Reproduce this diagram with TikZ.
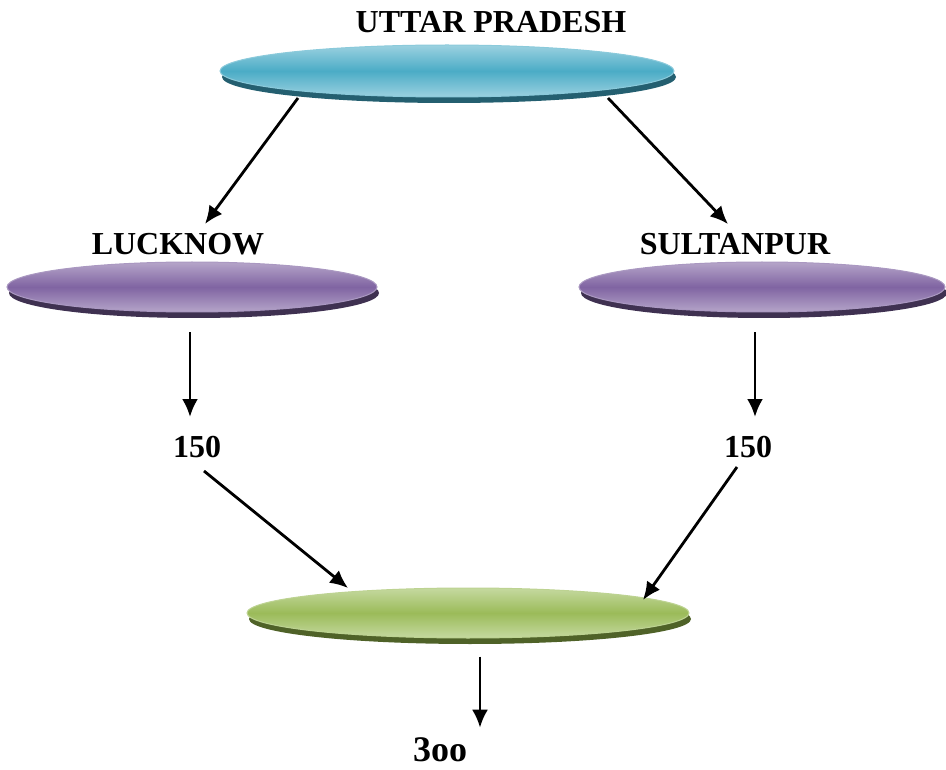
\documentclass[tikz,border=0pt]{standalone}
\usepackage{fontspec}
\setmainfont{Liberation Serif}
\usetikzlibrary{shapes.geometric,arrows.meta,shadows,calc}

\definecolor{tealbase}{HTML}{4BACC6}
\definecolor{teallight}{HTML}{9BD1E0}
\definecolor{tealdark}{HTML}{245F70}
\definecolor{purpbase}{HTML}{8064A2}
\definecolor{purplight}{HTML}{B5A5C9}
\definecolor{purpdark}{HTML}{3F3151}
\definecolor{grnbase}{HTML}{9BBB59}
\definecolor{grnlight}{HTML}{C5D9A0}
\definecolor{grndark}{HTML}{4F6228}

\tikzset{
  disc/.style n args={3}{ellipse, inner sep=0pt,
    general shadow={shadow xshift=2pt, shadow yshift=-6pt, fill=#3},
    top color=#2, bottom color=#2, middle color=#1,
    draw=#2!80!#1, line width=1pt},
  caption/.style={inner sep=0pt, font=\fontsize{32}{32}\selectfont\bfseries},
  link/.style={line width=2.8pt, -{Latex[length=18pt,width=16pt]}}
}

\begin{document}
\begin{tikzpicture}[x=1pt,y=-1pt]
  \useasboundingbox (0,0) rectangle (946,770);

  % state and its two districts
  \node[disc={tealbase}{teallight}{tealdark}, minimum width=454pt, minimum height=52pt] (up) at (447,71) {};
  \node[caption] (upt) at (491,22) {UTTAR PRADESH};

  \node[disc={purpbase}{purplight}{purpdark}, minimum width=370pt, minimum height=50pt] (lk) at (192,287) {};
  \node[caption] (lkt) at (178,244) {LUCKNOW};

  \node[disc={purpbase}{purplight}{purpdark}, minimum width=366pt, minimum height=50pt] (sp) at (762,287) {};
  \node[caption] (spt) at (735,244) {SULTANPUR};

  % counts per district
  \node[caption] (n1) at (197,447) {150};
  \node[caption] (n2) at (748,447) {150};

  % total
  \node[disc={grnbase}{grnlight}{grndark}, minimum width=442pt, minimum height=50pt] (gr) at (468,613) {};
  \node[caption, font=\fontsize{36}{36}\selectfont\bfseries] (tot) at (440,750) {3oo};

  % connectors
  \draw[link] ($(up.center)+(-149,27)$) -- ($(lkt.north)+(27,-9)$);
  \draw[link] ($(up.center)+(161,27)$) -- ($(spt.north)+(-7,-9)$);
  \draw[link] ($(lk.south)+(-2,20)$) -- ($(n1.north)+(-7,-19)$);
  \draw[link] ($(sp.south)+(-7,20)$) -- ($(n2.north)+(7,-19)$);
  \draw[link] ($(n1.south)+(7,13)$) -- ($(gr.center)+(-120,-25)$);
  \draw[link] ($(n2.south)+(-11,9)$) -- ($(gr.center)+(175,-13)$);
  \draw[link] ($(gr.south)+(12,18)$) -- ($(tot.north)+(40,-10)$);
\end{tikzpicture}
\end{document}
